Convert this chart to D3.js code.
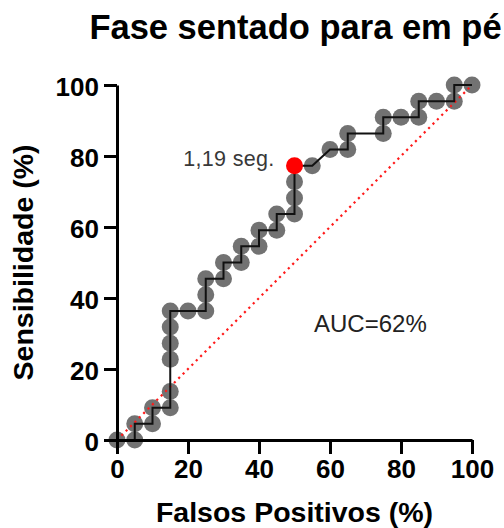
<!DOCTYPE html>
<html>
<head>
<meta charset="utf-8">
<script src="https://cdn.jsdelivr.net/npm/d3@7"></script>
<style>
  body { margin: 0; background: #fff; }
  svg { display: block; font-family: "Liberation Sans", Arial, sans-serif; }
</style>
</head>
<body>
<div id="chart"></div>
<script>
// ROC points (Falsos Positivos %, Sensibilidade %)
var fpr = [0, 5, 5, 10, 10, 15, 15, 15, 15, 15, 15, 20, 25, 25, 25, 30, 30, 35, 35, 40,
           40, 45, 45, 50, 50, 50, 50, 55, 60, 65, 65, 75, 75, 80, 85, 85, 90, 95, 95, 100];
var sens = [0, 0, 4.55, 4.55, 9.09, 9.09, 13.64, 22.73, 27.27, 31.82, 36.36, 36.36, 36.36, 40.91, 45.45, 45.45, 50, 50, 54.55, 54.55,
            59.09, 59.09, 63.64, 63.64, 68.18, 72.73, 77.27, 77.27, 81.82, 81.82, 86.36, 86.36, 90.91, 90.91, 90.91, 95.45, 95.45, 95.45, 100, 100];
var cutoffIndex = 26;          // ponto de corte destacado
var cutoffLabel = '1,19 seg.';
var aucLabel = 'AUC=62%';
var ticks = [0, 20, 40, 60, 80, 100];
var title = 'Fase sentado para em pé';
var xTitle = 'Falsos Positivos (%)';
var yTitle = 'Sensibilidade (%)';

var W = 504, H = 528;
var margin = {left: 117, top: 85, right: 32, bottom: 88};
var iw = W - margin.left - margin.right;   // 355
var ih = H - margin.top - margin.bottom;   // 355

var svg = d3.select('#chart').append('svg')
    .attr('width', W)
    .attr('height', H);

var x = d3.scaleLinear().domain([0, 100]).range([0, iw]);
var y = d3.scaleLinear().domain([0, 100]).range([ih, 0]);

var g = svg.append('g').attr('transform', 'translate(' + margin.left + ',' + margin.top + ')');

var points = fpr.map(function(v, i) { return {x: v, y: sens[i], i: i}; });

// markers
g.append('g').selectAll('circle')
    .data(points.filter(function(d) { return d.i !== cutoffIndex; }))
    .join('circle')
    .attr('cx', function(d) { return x(d.x); })
    .attr('cy', function(d) { return y(d.y); })
    .attr('r', 8.5)
    .attr('fill', '#727272');

// chance line
g.append('line')
    .attr('x1', x(0)).attr('y1', y(0))
    .attr('x2', x(100)).attr('y2', y(100))
    .attr('stroke', '#ff1a1a')
    .attr('stroke-width', 2.2)
    .attr('stroke-dasharray', '2.2,4');

// step curve
var line = d3.line()
    .x(function(d) { return x(d.x); })
    .y(function(d) { return y(d.y); });
g.append('path')
    .datum(points)
    .attr('d', line)
    .attr('fill', 'none')
    .attr('stroke', '#111')
    .attr('stroke-width', 2);

// cutoff point
var c = points[cutoffIndex];
g.append('circle')
    .attr('cx', x(c.x))
    .attr('cy', y(c.y))
    .attr('r', 8.5)
    .attr('fill', '#ff0000');

g.append('text')
    .attr('x', x(c.x) - 20)
    .attr('y', y(c.y) + 0.5)
    .attr('text-anchor', 'end')
    .attr('font-size', '21.5px')
    .attr('fill', '#383838')
    .style('letter-spacing', '0.3px')
    .text(cutoffLabel);

g.append('text')
    .attr('x', x(55.5))
    .attr('y', y(30.5))
    .attr('font-size', '24px')
    .attr('fill', '#222')
    .text(aucLabel);

// axes
var xAxis = g.append('g')
    .attr('transform', 'translate(0,' + ih + ')')
    .call(d3.axisBottom(x).tickValues(ticks).tickSize(14).tickSizeOuter(0).tickPadding(6));
var yAxis = g.append('g')
    .call(d3.axisLeft(y).tickValues(ticks).tickSize(13).tickSizeOuter(0).tickPadding(5));

[xAxis, yAxis].forEach(function(a) {
    a.select('.domain').attr('stroke', '#000').attr('stroke-width', 3);
    a.selectAll('.tick line').attr('stroke', '#000').attr('stroke-width', 3);
    a.selectAll('.tick text')
        .attr('fill', '#000')
        .attr('font-size', '26px')
        .attr('font-weight', 'bold')
        .attr('font-family', '"Liberation Sans", Arial, sans-serif');
});
yAxis.selectAll('.tick text').attr('dy', '0.4em');

// titles
svg.append('text')
    .attr('x', margin.left + iw / 2 + 1)
    .attr('y', 39)
    .attr('text-anchor', 'middle')
    .attr('font-size', '34.5px')
    .attr('font-weight', 'bold')
    .text(title);

svg.append('text')
    .attr('x', margin.left + iw / 2)
    .attr('y', 522)
    .attr('text-anchor', 'middle')
    .attr('font-size', '28.5px')
    .attr('font-weight', 'bold')
    .text(xTitle);

svg.append('text')
    .attr('transform', 'translate(33,' + (margin.top + ih / 2) + ') rotate(-90)')
    .attr('text-anchor', 'middle')
    .attr('font-size', '28.5px')
    .attr('font-weight', 'bold')
    .text(yTitle);
</script>
</body>
</html>
